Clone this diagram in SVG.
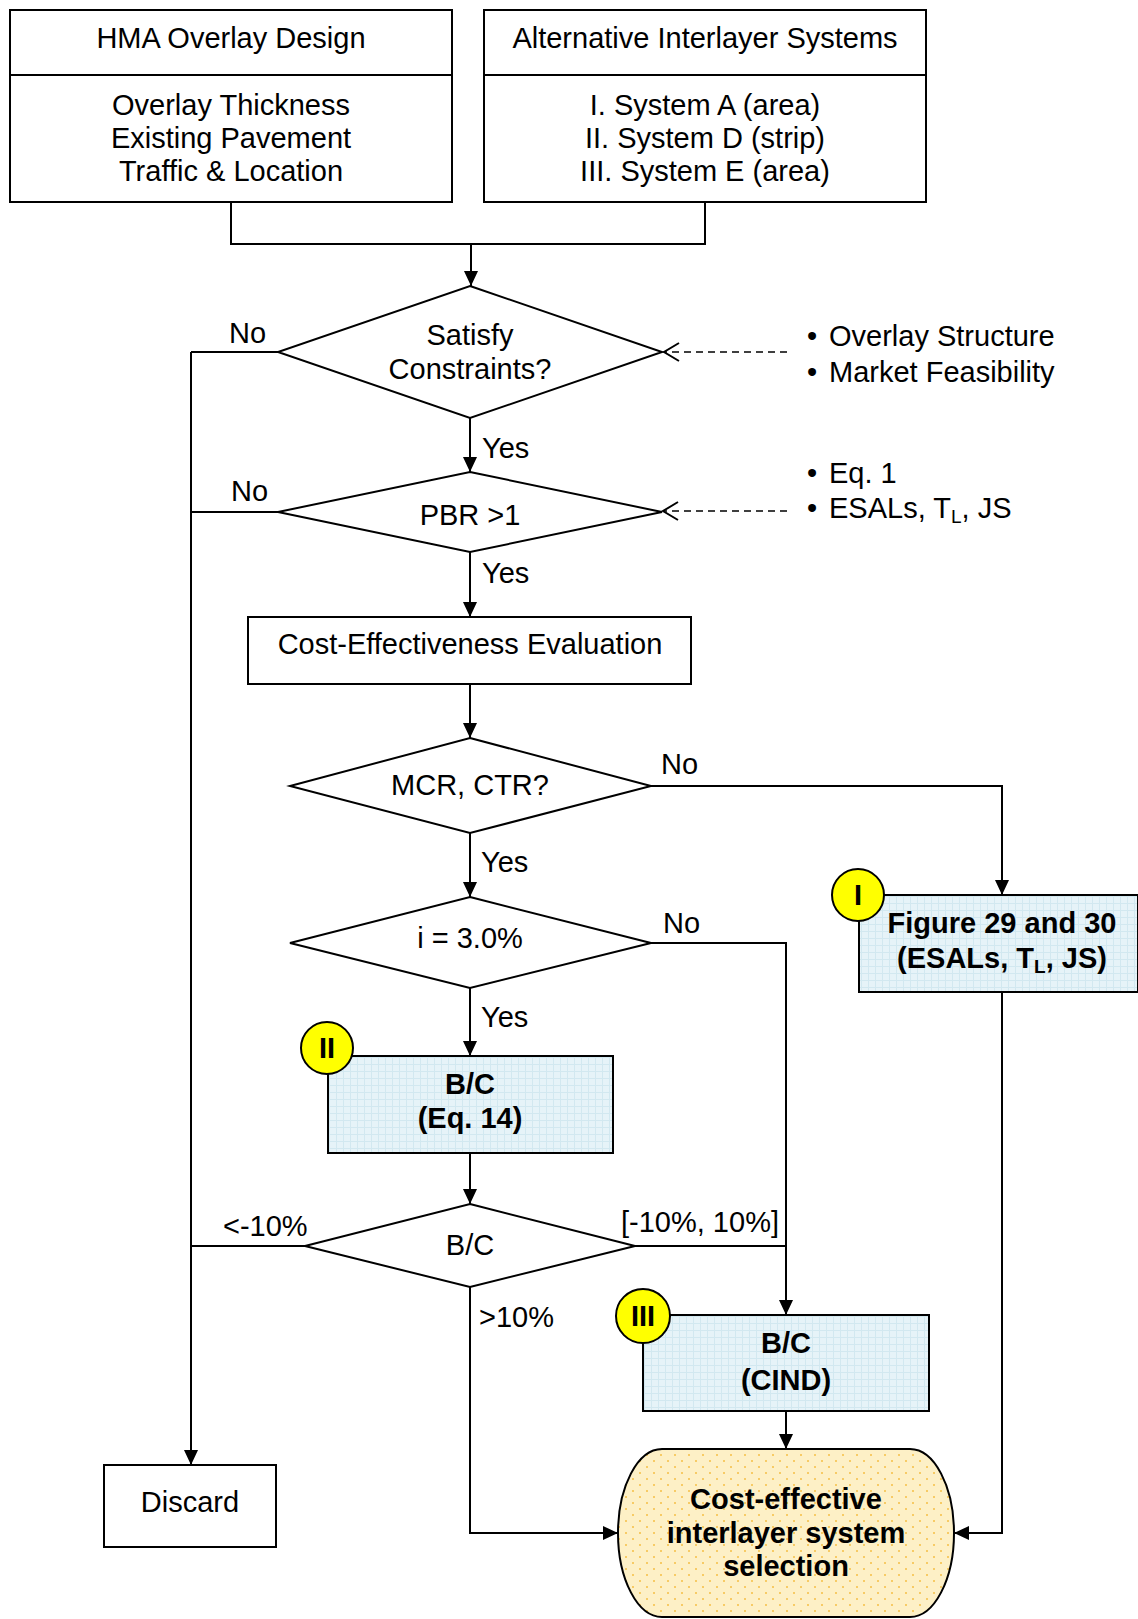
<svg xmlns="http://www.w3.org/2000/svg" width="1138" height="1619" viewBox="0 0 1138 1619">
<defs>
<style>
text{font-family:"Liberation Sans",Arial,Helvetica,sans-serif;font-size:29px;fill:#000}
.b{font-weight:bold;font-size:29px}
.m{text-anchor:middle}
.box{fill:#fff;stroke:#000;stroke-width:2}
.blue{fill:url(#grid);stroke:#000;stroke-width:2}
.ln{fill:none;stroke:#000;stroke-width:2}
.arr{fill:none;stroke:#000;stroke-width:2;marker-end:url(#ah)}
.dash{fill:none;stroke:#000;stroke-width:1.6;stroke-dasharray:7 5;marker-end:url(#oh)}
.badge{fill:#ffff00;stroke:#000;stroke-width:2}
</style>
<marker id="ah" markerUnits="userSpaceOnUse" markerWidth="16" markerHeight="16" refX="15" refY="7" orient="auto">
<path d="M0,0 L15,7 L0,14 z" fill="#000"/>
</marker>
<marker id="oh" markerUnits="userSpaceOnUse" markerWidth="18" markerHeight="22" refX="16" refY="10" orient="auto">
<path d="M1,1 L16,10 L1,19" fill="none" stroke="#000" stroke-width="2"/>
</marker>
<pattern id="grid" patternUnits="userSpaceOnUse" width="7" height="7">
<rect width="7" height="7" fill="#e6f3f8"/>
<path d="M0,0.5 H7 M0.5,0 V7" stroke="#d2e8f0" stroke-width="1"/>
</pattern>
<pattern id="dots" patternUnits="userSpaceOnUse" width="14" height="12">
<rect width="14" height="12" fill="#fdf0c6"/>
<circle cx="3" cy="3" r="1" fill="#f5bf45"/>
<circle cx="10" cy="9" r="1" fill="#f5bf45"/>
</pattern>
</defs>

<g id="connectors">
<path class="ln" d="M231,202 V244 H705 V202"/>
<path class="arr" d="M471,244 V286"/>
<path class="arr" d="M470,418 V472"/>
<path class="arr" d="M470,552 V617"/>
<path class="arr" d="M470,684 V738"/>
<path class="arr" d="M470,833 V897"/>
<path class="arr" d="M470,988 V1056"/>
<path class="arr" d="M470,1153 V1204"/>
<path class="ln" d="M279,352 H191"/>
<path class="ln" d="M278,512 H191"/>
<path class="ln" d="M305,1246 H191"/>
<path class="arr" d="M191,352 V1465"/>
<path class="arr" d="M651,786 H1002 V895"/>
<path class="arr" d="M651,943 H786 V1315"/>
<path class="ln" d="M635,1246 H786"/>
<path class="arr" d="M786,1411 V1449"/>
<path class="arr" d="M470,1287 V1533 H618"/>
<path class="arr" d="M1002,992 V1533 H954"/>
<path class="dash" d="M787,352 H664"/>
<path class="dash" d="M787,511 H663"/>
</g>

<g id="labels">
<text x="229" y="343">No</text>
<text x="231" y="501">No</text>
<text x="482" y="458">Yes</text>
<text x="482" y="583">Yes</text>
<text x="661" y="774">No</text>
<text x="481" y="872">Yes</text>
<text x="663" y="933">No</text>
<text x="481" y="1027">Yes</text>
<text x="223" y="1236">&lt;-10%</text>
<text x="621" y="1232">[-10%, 10%]</text>
<text x="479" y="1327">&gt;10%</text>
</g>

<g id="hma">
<rect class="box" x="10" y="10" width="442" height="192"/>
<path class="ln" d="M10,75 H452"/>
<text class="m" x="231" y="48">HMA Overlay Design</text>
<text class="m" x="231" y="115">Overlay Thickness</text>
<text class="m" x="231" y="148">Existing Pavement</text>
<text class="m" x="231" y="181">Traffic &amp; Location</text>
</g>

<g id="alt">
<rect class="box" x="484" y="10" width="442" height="192"/>
<path class="ln" d="M484,75 H926"/>
<text class="m" x="705" y="48">Alternative Interlayer Systems</text>
<text class="m" x="705" y="115">I. System A (area)</text>
<text class="m" x="705" y="148">II. System D (strip)</text>
<text class="m" x="705" y="181">III. System E (area)</text>
</g>

<g id="constraints">
<polygon class="box" points="470,286 662,352 470,418 278,352"/>
<text class="m" x="470" y="345">Satisfy</text>
<text class="m" x="470" y="379">Constraints?</text>
</g>

<g id="constraints-notes">
<text x="807" y="346">•</text><text x="829" y="346">Overlay Structure</text>
<text x="807" y="382">•</text><text x="829" y="382">Market Feasibility</text>
</g>

<g id="pbr">
<polygon class="box" points="470,472 662,512 470,552 278,512"/>
<text class="m" x="470" y="525">PBR &gt;1</text>
</g>

<g id="pbr-notes">
<text x="807" y="483">•</text><text x="829" y="483">Eq. 1</text>
<text x="807" y="518">•</text><text x="829" y="518">ESALs, T<tspan font-size="19" dy="5">L</tspan><tspan dy="-5">, JS</tspan></text>
</g>

<g id="cost-eval">
<rect class="box" x="248" y="617" width="443" height="67"/>
<text class="m" x="470" y="654">Cost-Effectiveness Evaluation</text>
</g>

<g id="mcr">
<polygon class="box" points="470,738 651,786 470,833 290,786"/>
<text class="m" x="470" y="795">MCR, CTR?</text>
</g>

<g id="interest">
<polygon class="box" points="470,897 651,943 470,988 290,943"/>
<text class="m" x="470" y="948">i = 3.0%</text>
</g>

<g id="figure-box">
<rect class="blue" x="859" y="895" width="279" height="97"/>
<text class="m b" x="1002" y="933">Figure 29 and 30</text>
<text class="m b" x="1002" y="968">(ESALs, T<tspan font-size="19" dy="5">L</tspan><tspan dy="-5">, JS)</tspan></text>
<circle class="badge" cx="858" cy="895" r="26"/>
<text class="m b" x="858" y="905">I</text>
</g>

<g id="bc-eq14">
<rect class="blue" x="328" y="1056" width="285" height="97"/>
<text class="m b" x="470" y="1094">B/C</text>
<text class="m b" x="470" y="1128">(Eq. 14)</text>
<circle class="badge" cx="327" cy="1048" r="26"/>
<text class="m b" x="327" y="1058">II</text>
</g>

<g id="bc-decision">
<polygon class="box" points="470,1204 635,1246 470,1287 305,1246"/>
<text class="m" x="470" y="1255">B/C</text>
</g>

<g id="bc-cind">
<rect class="blue" x="643" y="1315" width="286" height="96"/>
<text class="m b" x="786" y="1353">B/C</text>
<text class="m b" x="786" y="1390">(CIND)</text>
<circle class="badge" cx="643" cy="1316" r="27"/>
<text class="m b" x="643" y="1326">III</text>
</g>

<g id="discard">
<rect class="box" x="104" y="1465" width="172" height="82"/>
<text class="m" x="190" y="1512">Discard</text>
</g>

<g id="selection">
<rect x="618" y="1449" width="336" height="168" rx="44" ry="84" fill="url(#dots)" stroke="#000" stroke-width="2"/>
<text class="m b" x="786" y="1509">Cost-effective</text>
<text class="m b" x="786" y="1543">interlayer system</text>
<text class="m b" x="786" y="1576">selection</text>
</g>
</svg>
